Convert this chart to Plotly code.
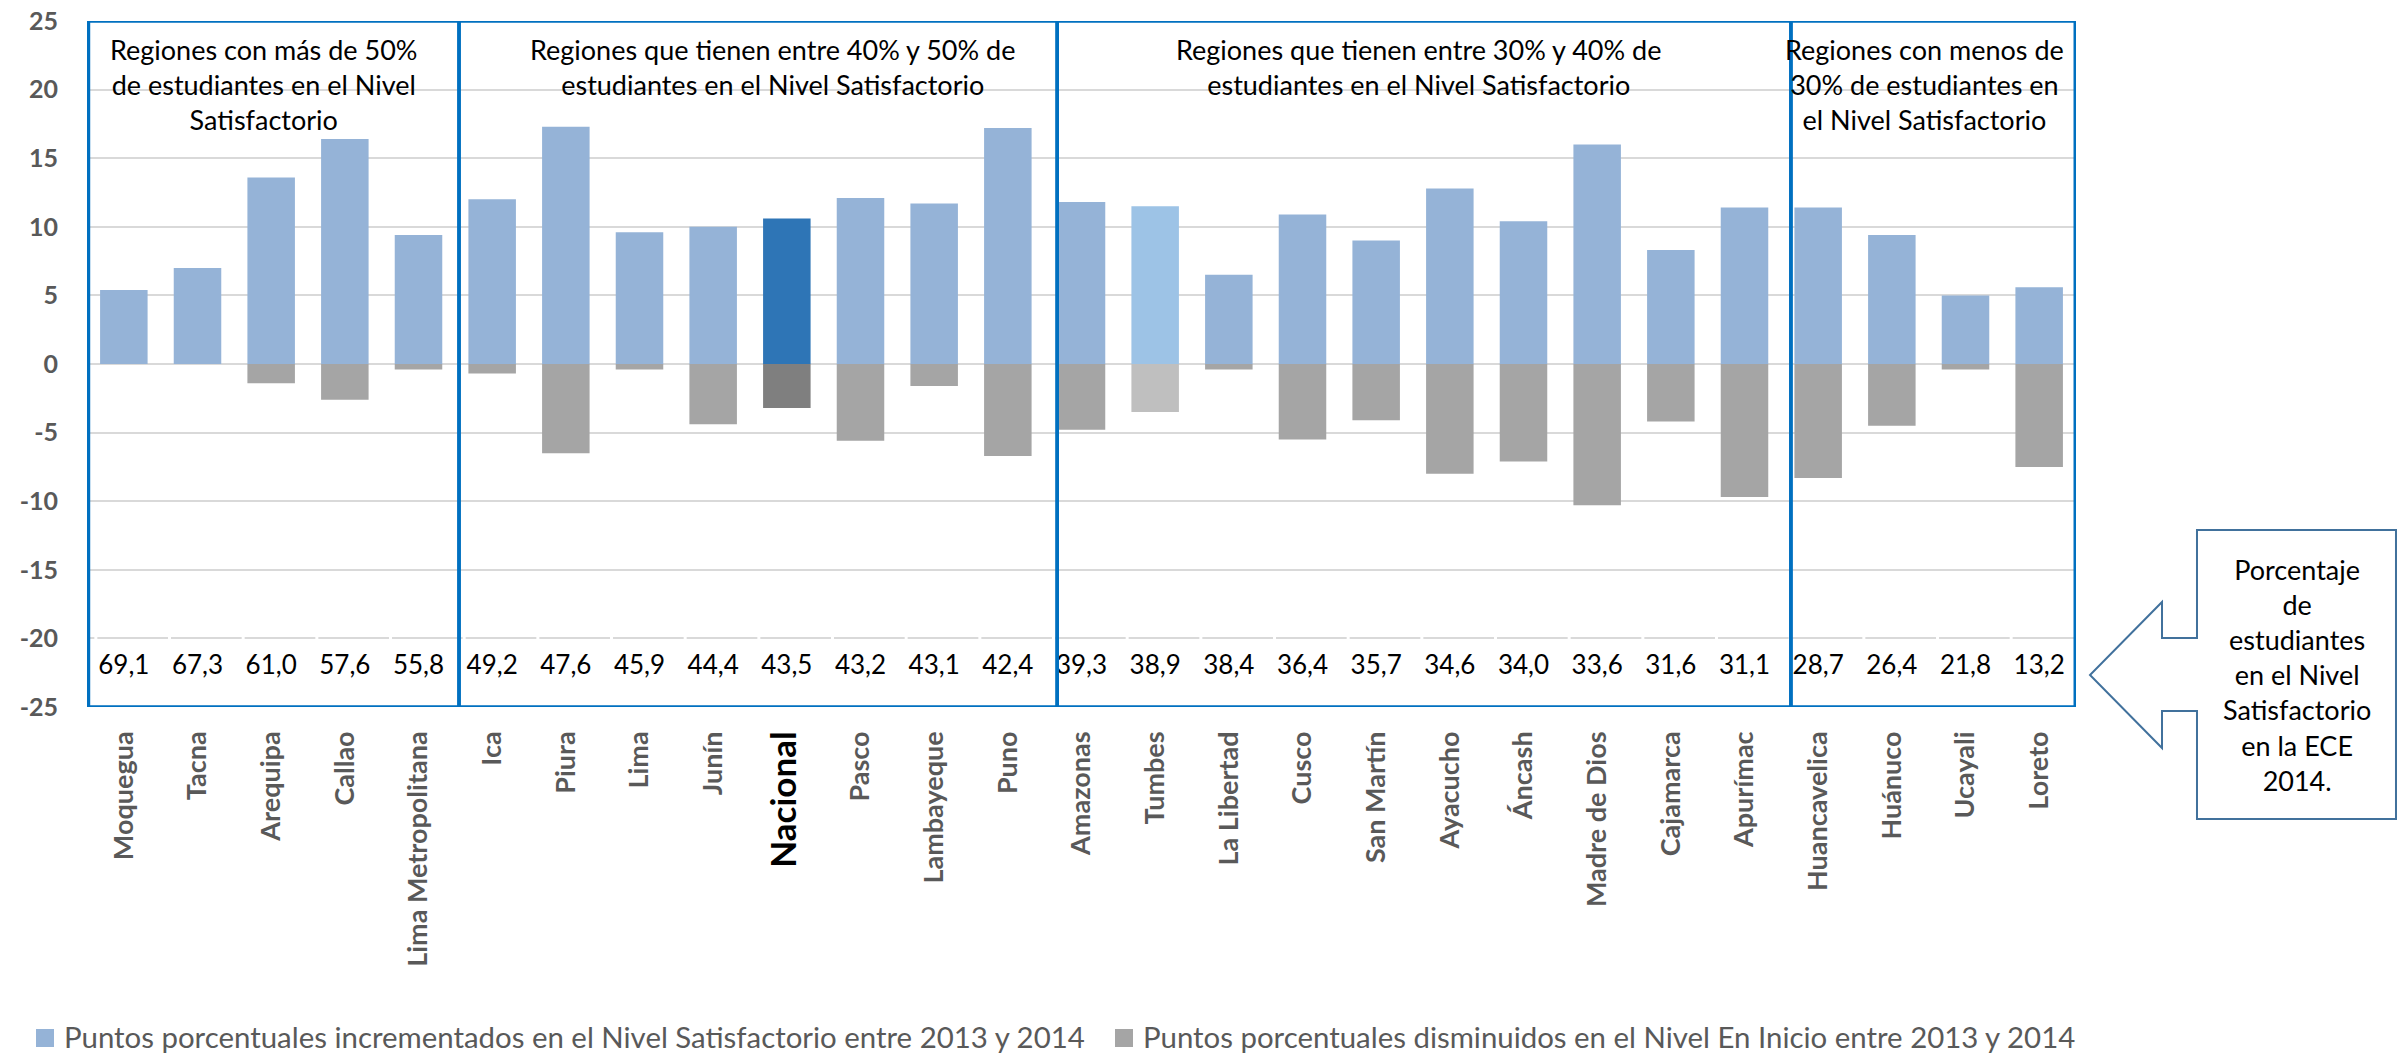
import plotly.graph_objects as go

# ---------------- data ----------------
regions = ["Moquegua", "Tacna", "Arequipa", "Callao", "Lima Metropolitana",
           "Ica", "Piura", "Lima", "Junín", "Nacional", "Pasco", "Lambayeque", "Puno",
           "Amazonas", "Tumbes", "La Libertad", "Cusco", "San Martín", "Ayacucho",
           "Áncash", "Madre de Dios", "Cajamarca", "Apurímac",
           "Huancavelica", "Huánuco", "Ucayali", "Loreto"]
incremento = [5.4, 7.0, 13.6, 16.4, 9.4,
              12.0, 17.3, 9.6, 10.0, 10.6, 12.1, 11.7, 17.2,
              11.8, 11.5, 6.5, 10.9, 9.0, 12.8, 10.4, 16.0, 8.3, 11.4,
              11.4, 9.4, 5.0, 5.6]
disminucion = [0.0, 0.0, -1.4, -2.6, -0.4,
               -0.7, -6.5, -0.4, -4.4, -3.2, -5.6, -1.6, -6.7,
               -4.8, -3.5, -0.4, -5.5, -4.1, -8.0, -7.1, -10.3, -4.2, -9.7,
               -8.3, -4.5, -0.4, -7.5]
satisfactorio_2014 = [69.1, 67.3, 61.0, 57.6, 55.8,
                      49.2, 47.6, 45.9, 44.4, 43.5, 43.2, 43.1, 42.4,
                      39.3, 38.9, 38.4, 36.4, 35.7, 34.6, 34.0, 33.6, 31.6, 31.1,
                      28.7, 26.4, 21.8, 13.2]
group_titles = ["Regiones con más de 50%<br>de estudiantes en el Nivel<br>Satisfactorio",
                "Regiones que tienen entre 40% y 50% de<br>estudiantes en el Nivel Satisfactorio",
                "Regiones que tienen entre 30% y 40% de<br>estudiantes en el Nivel Satisfactorio",
                "Regiones con menos de<br>30% de estudiantes en<br>el Nivel Satisfactorio"]
y_ticks = [25, 20, 15, 10, 5, 0, -5, -10, -15, -20, -25]
legend_names = ["Puntos porcentuales incrementados en el Nivel Satisfactorio entre 2013 y 2014",
                "Puntos porcentuales disminuidos en el Nivel En Inicio entre 2013 y 2014"]
callout_text = "Porcentaje<br>de<br>estudiantes<br>en el Nivel<br>Satisfactorio<br>en la ECE<br>2014."

# ---------------- style ----------------
FONT = "Lato"
BLUE, BLUE_NAC, BLUE_TUM = "#95B3D7", "#2E75B6", "#9DC3E6"
GRAY, GRAY_NAC, GRAY_TUM = "#A5A5A5", "#7F7F7F", "#BFBFBF"
BOX = "#0070C0"

PL, PT, PW, PH = 87, 21, 1989, 686          # plot area in screen pixels
FIG_W, FIG_H = 2399, 1059
L, T = PL, PT
R = FIG_W - L - PW
B = FIG_H - T - PH

def px_x(sx):
    return (sx - PL) / PW

def px_y(sy):
    return 1 - (sy - PT) / PH

x_idx = list(range(len(regions)))
blue_colors = [BLUE_NAC if r == "Nacional" else BLUE_TUM if r == "Tumbes" else BLUE for r in regions]
gray_colors = [GRAY_NAC if r == "Nacional" else GRAY_TUM if r == "Tumbes" else GRAY for r in regions]

fig = go.Figure()
fig.add_trace(go.Bar(x=x_idx, y=incremento, name=legend_names[0], showlegend=False,
                     marker=dict(color=blue_colors, line=dict(width=0))))
fig.add_trace(go.Bar(x=x_idx, y=disminucion, name=legend_names[1], showlegend=False,
                     marker=dict(color=gray_colors, line=dict(width=0))))
fig.add_trace(go.Scatter(x=x_idx, y=[-22.1] * len(regions), mode="text",
                         text=[f"{v:.1f}".replace(".", ",") for v in satisfactorio_2014],
                         textfont=dict(family=FONT, size=26, color="#000000"),
                         showlegend=False, hoverinfo="skip"))

ticktext = []
for r in regions:
    if r == "Nacional":
        ticktext.append("<b><span style='font-size:35px;color:#000000'>Nacional</span></b>")
    else:
        ticktext.append(f"<b>{r}</b>")

shapes = []
# small white breaks in the -20 gridline (table-like cells)
for i in range(len(regions) + 1):
    xb = i - 0.5 + 0.12
    shapes.append(dict(type="line", xref="x", yref="y", x0=xb, x1=xb, y0=-19.82, y1=-20.18,
                       line=dict(color="white", width=3), layer="above"))

# group boxes
edges = [-0.48, 4.55, 12.67, 22.63, 26.49]
text_x = [1.90, 8.81, 17.57, 24.45]
for i in range(4):
    shapes.append(dict(type="rect", xref="x", yref="y", x0=edges[i], x1=edges[i + 1],
                       y0=-25, y1=25, line=dict(color=BOX, width=3.5), layer="above"))

# callout arrow box (screen pixel outline)
pts = [(2197, 530), (2396, 530), (2396, 819), (2197, 819), (2197, 711), (2162, 711),
       (2162, 748), (2090, 675), (2162, 602), (2162, 638), (2197, 638)]
path = "M " + " L ".join(f"{px_x(a):.5f},{px_y(b):.5f}" for a, b in pts) + " Z"
shapes.append(dict(type="path", xref="paper", yref="paper", path=path,
                   line=dict(color="#41719C", width=2), fillcolor="rgba(255,255,255,0)"))

annotations = []
for i in range(4):
    annotations.append(dict(x=text_x[i], y=24.3, xref="x", yref="y", text=group_titles[i],
                            showarrow=False, xanchor="center", yanchor="top", align="center",
                            font=dict(family=FONT, size=27, color="#000000")))
annotations.append(dict(x=px_x(2297), y=px_y(675), xref="paper", yref="paper", text=callout_text,
                        showarrow=False, xanchor="center", yanchor="middle", align="center",
                        font=dict(family=FONT, size=27, color="#000000")))

# legend (squares + labels)
legend_colors = [BLUE, GRAY]
legend_sq_x = [36, 1115]
for name, col, sx in zip(legend_names, legend_colors, legend_sq_x):
    shapes.append(dict(type="rect", xref="paper", yref="paper",
                       x0=px_x(sx), x1=px_x(sx + 18), y0=px_y(1029), y1=px_y(1047),
                       line=dict(width=0), fillcolor=col))
    annotations.append(dict(x=px_x(sx + 26), y=px_y(1036), xref="paper", yref="paper",
                            text=name, showarrow=False, xanchor="left", yanchor="middle",
                            font=dict(family=FONT, size=29.4, color="#595959")))

fig.update_layout(
    width=FIG_W, height=FIG_H,
    margin=dict(l=L, r=R, t=T, b=B, autoexpand=False),
    paper_bgcolor="white", plot_bgcolor="white",
    barmode="relative", bargap=0.355,
    shapes=shapes, annotations=annotations,
    showlegend=False,
    xaxis=dict(range=[-0.5, len(regions) - 0.5], tickmode="array", tickvals=x_idx,
               ticktext=ticktext, tickangle=-90, showgrid=False, zeroline=False,
               showline=False, ticks="", ticklabelstandoff=18, automargin=False,
               ticklabeloverflow="allow",
               tickfont=dict(family=FONT, size=27, color="#595959")),
    yaxis=dict(range=[-25, 25], tickmode="array", tickvals=y_ticks,
               ticktext=[f"<b>{v}</b>" for v in y_ticks], showgrid=True, gridcolor="#D9D9D9",
               gridwidth=2, zeroline=True, zerolinecolor="#D9D9D9", zerolinewidth=2,
               showline=False, ticks="", ticklabelstandoff=28, automargin=False,
               ticklabeloverflow="allow",
               tickfont=dict(family=FONT, size=25, color="#595959")),
)

fig.write_html("out.html", config={"displayModeBar": False},
               post_script="document.body.style.margin='0';document.body.style.overflow='hidden';")
